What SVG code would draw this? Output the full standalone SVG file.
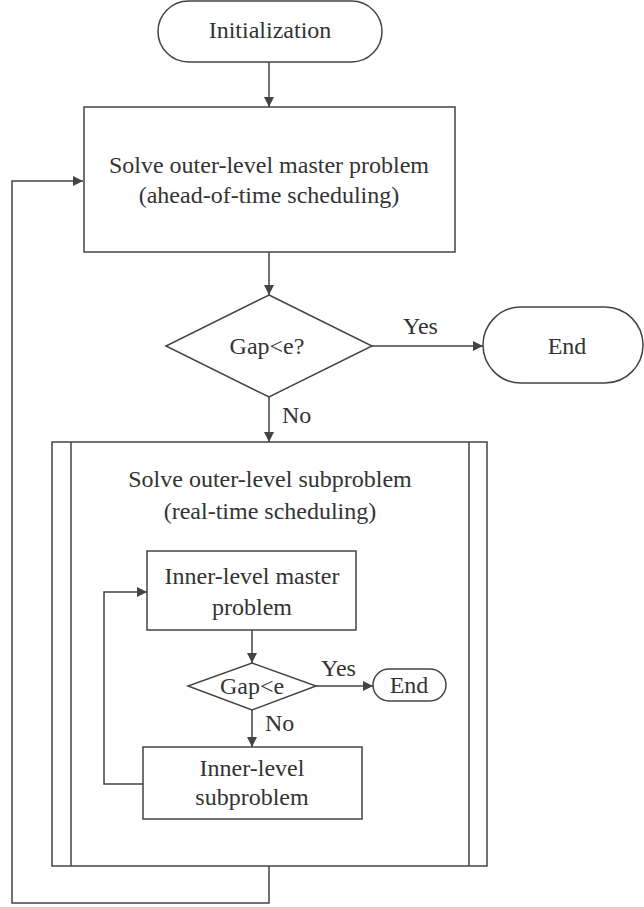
<svg xmlns="http://www.w3.org/2000/svg" width="644" height="907" viewBox="0 0 644 907">
<defs>
<marker id="a" viewBox="0 0 10 10" refX="10" refY="5" markerWidth="10" markerHeight="10" markerUnits="userSpaceOnUse" orient="auto">
<path d="M0,0 L10,5 L0,10 Z" fill="#444"/>
</marker>
</defs>
<g id="init">
<rect x="158" y="1" width="224" height="61" rx="30.5" fill="#fff" stroke="#444" stroke-width="1.5"/>
<text style="font-family:'Liberation Serif','Times New Roman',serif;font-size:24px" fill="#333" text-anchor="middle" x="270" y="38">Initialization</text>
</g>
<g id="master">
<rect x="84" y="107" width="371" height="145" fill="#fff" stroke="#444" stroke-width="1.5"/>
<text style="font-family:'Liberation Serif','Times New Roman',serif;font-size:24px" fill="#333" text-anchor="middle" x="269" y="173">Solve outer-level master problem</text>
<text style="font-family:'Liberation Serif','Times New Roman',serif;font-size:24px" fill="#333" text-anchor="middle" x="269" y="203">(ahead-of-time scheduling)</text>
</g>
<g id="gap1">
<path d="M269,295 L372,346 L269,397 L166,346 Z" fill="#fff" stroke="#444" stroke-width="1.5"/>
<text style="font-family:'Liberation Serif','Times New Roman',serif;font-size:24px" fill="#333" text-anchor="middle" x="267" y="354">Gap&lt;e?</text>
</g>
<g id="end1">
<rect x="483" y="307" width="160" height="76" rx="38" fill="#fff" stroke="#444" stroke-width="1.5"/>
<text style="font-family:'Liberation Serif','Times New Roman',serif;font-size:24px" fill="#333" text-anchor="middle" x="567" y="354">End</text>
</g>
<g id="sub">
<rect x="52" y="442" width="435" height="424" fill="#fff" stroke="#444" stroke-width="1.5"/>
<path fill="none" stroke="#444" stroke-width="1.5" d="M71,442 V866 M469,442 V866"/>
<text style="font-family:'Liberation Serif','Times New Roman',serif;font-size:24px" fill="#333" text-anchor="middle" x="270" y="487">Solve outer-level subproblem</text>
<text style="font-family:'Liberation Serif','Times New Roman',serif;font-size:24px" fill="#333" text-anchor="middle" x="270" y="519">(real-time scheduling)</text>
</g>
<g id="innermaster">
<rect x="147" y="551" width="209" height="79" fill="#fff" stroke="#444" stroke-width="1.5"/>
<text style="font-family:'Liberation Serif','Times New Roman',serif;font-size:24px" fill="#333" text-anchor="middle" x="252" y="584">Inner-level master</text>
<text style="font-family:'Liberation Serif','Times New Roman',serif;font-size:24px" fill="#333" text-anchor="middle" x="252" y="615">problem</text>
</g>
<g id="gap2">
<path d="M252,663 L316,686 L252,710 L188,686 Z" fill="#fff" stroke="#444" stroke-width="1.5"/>
<text style="font-family:'Liberation Serif','Times New Roman',serif;font-size:24px" fill="#333" text-anchor="middle" x="252" y="694">Gap&lt;e</text>
</g>
<g id="end2">
<rect x="373" y="669" width="73" height="32" rx="16" fill="#fff" stroke="#444" stroke-width="1.5"/>
<text style="font-family:'Liberation Serif','Times New Roman',serif;font-size:24px" fill="#333" text-anchor="middle" x="409" y="693">End</text>
</g>
<g id="innersub">
<rect x="143" y="747" width="219" height="72" fill="#fff" stroke="#444" stroke-width="1.5"/>
<text style="font-family:'Liberation Serif','Times New Roman',serif;font-size:24px" fill="#333" text-anchor="middle" x="252" y="776">Inner-level</text>
<text style="font-family:'Liberation Serif','Times New Roman',serif;font-size:24px" fill="#333" text-anchor="middle" x="252" y="805">subproblem</text>
</g>
<g id="connectors" fill="none" stroke="#444" stroke-width="1.5">
<path d="M269,62 V107" marker-end="url(#a)"/>
<path d="M269,252 V295" marker-end="url(#a)"/>
<path d="M372,346 H483" marker-end="url(#a)"/>
<path d="M269,397 V442" marker-end="url(#a)"/>
<path d="M269,866 V903 H12 V181 H83" marker-end="url(#a)"/>
<path d="M252,630 V663" marker-end="url(#a)"/>
<path d="M316,686 H373" marker-end="url(#a)"/>
<path d="M252,710 V747" marker-end="url(#a)"/>
<path d="M143,784 H104 V592 H147" marker-end="url(#a)"/>
</g>
<g id="labels">
<text style="font-family:'Liberation Serif','Times New Roman',serif;font-size:24px" fill="#333" x="403" y="334">Yes</text>
<text style="font-family:'Liberation Serif','Times New Roman',serif;font-size:24px" fill="#333" x="282" y="423">No</text>
<text style="font-family:'Liberation Serif','Times New Roman',serif;font-size:24px" fill="#333" x="321" y="676">Yes</text>
<text style="font-family:'Liberation Serif','Times New Roman',serif;font-size:24px" fill="#333" x="265" y="731">No</text>
</g>
</svg>
